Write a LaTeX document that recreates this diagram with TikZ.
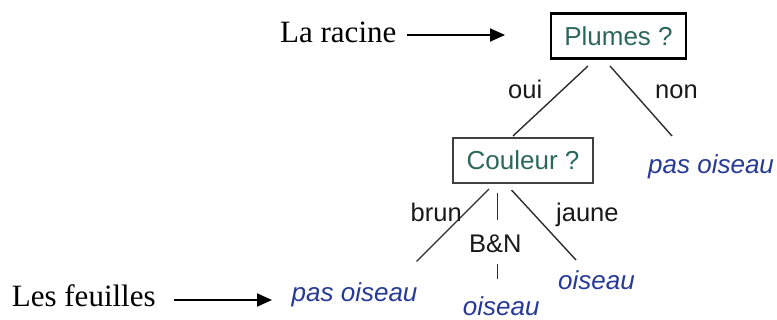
\documentclass[tikz,border=0pt]{standalone}
\usepackage{fontspec}
\setmainfont{Liberation Serif}
\newfontfamily\arialfont{Liberation Sans}
\usetikzlibrary{arrows.meta}
\definecolor{qteal}{RGB}{44,104,90}
\definecolor{leafblue}{RGB}{38,58,150}
\definecolor{edgegray}{RGB}{45,45,45}
\begin{document}
\begin{tikzpicture}[x=1pt,y=-1pt,
  question/.style={draw, inner sep=0pt, text=qteal,
    font=\arialfont\fontsize{26}{30}\selectfont},
  leaf/.style={anchor=base west, inner sep=0pt, text=leafblue,
    font=\arialfont\itshape\fontsize{26}{30}\selectfont},
  edgelabel/.style={anchor=base west, inner sep=0pt, text=black!90,
    font=\arialfont\fontsize{25.5}{30}\selectfont},
  caption/.style={anchor=base west, inner sep=0pt,
    font=\fontsize{31}{36}\selectfont},
  branch/.style={draw=edgegray, line width=1.4pt},
  pointer/.style={draw=black, line width=1.9pt,
    -{Triangle[length=15pt,width=13pt]}}]
\useasboundingbox (0,0) rectangle (777,320);

% decision nodes
\node[question, line width=2.4pt, minimum width=135pt, minimum height=45pt]
  (plumes) at (618.5,36) {Plumes ?};
\node[question, line width=1.5pt, draw=black!75, minimum width=140pt, minimum height=45pt]
  (couleur) at (523,160.5) {Couleur ?};

% leaves
\node[leaf] (leafR) at (648,173.3) {pas oiseau};
\node[leaf] (leafA) at (291.5,301.7) {pas oiseau};
\node[leaf] (leafB) at (462.7,316) {oiseau};
\node[leaf] (leafC) at (558,290) {oiseau};

% branch end points
\coordinate (ouiA) at (588,66);
\coordinate (ouiB) at (513,136);
\coordinate (nonA) at (610,66);
\coordinate (nonB) at (672,136);
\coordinate (brA) at (489,189);
\coordinate (brB) at (416.5,261.5);
\coordinate (bnA) at (497.3,193);
\coordinate (bnB) at (497.3,220);
\coordinate (bnC) at (497.3,264);
\coordinate (bnD) at (497.3,279);
\coordinate (jaA) at (511.5,190);
\coordinate (jaB) at (576,260);

\draw[branch] (ouiA) -- (ouiB);
\draw[branch] (nonA) -- (nonB);
\draw[branch] (brA) -- (brB);
\draw[branch] (bnA) -- (bnB);
\draw[branch] (bnC) -- (bnD);
\draw[branch] (jaA) -- (jaB);

% branch labels
\node[edgelabel] (lOui) at (508,98.3) {oui};
\node[edgelabel] (lNon) at (655,98.3) {non};
\node[edgelabel] (lBrun) at (410.5,221.7) {brun};
\node[edgelabel] (lJaune) at (556,221.7) {jaune};
\node[edgelabel] (lBN) at (469,252.7) {B\&N};

% captions with pointers
\node[caption] (racine) at (280,42.7) {La racine};
\node[caption] (feuilles) at (11.7,306.7) {Les feuilles};
\coordinate (racineTip) at (505,35);
\coordinate (feuillesTip) at (272,300);
\draw[pointer] (racine.east |- racineTip) ++(10,0) -- (racineTip);
\draw[pointer] (feuilles.east |- feuillesTip) ++(18,0) -- (feuillesTip);
\end{tikzpicture}
\end{document}
